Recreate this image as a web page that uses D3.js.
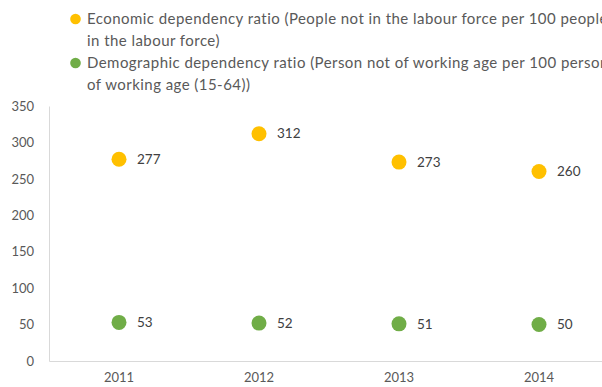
<!DOCTYPE html>
<html><head><meta charset="utf-8">
<script src="https://cdn.jsdelivr.net/npm/d3@7"></script>
<style>body{margin:0;background:#fff;overflow:hidden}svg{display:block}</style>
</head><body>
<script>
const years = ["2011", "2012", "2013", "2014"];
const economic = [277, 312, 273, 260];
const demographic = [53, 52, 51, 50];
const yTicks = [0, 50, 100, 150, 200, 250, 300, 350];
const legendLines = [
  ["Economic dependency ratio (People not in the labour force per 100 people", "in the labour force)"],
  ["Demographic dependency ratio (Person not of working age per 100 persons", "of working age (15-64))"]
];
const colors = ["#FFC000", "#70AD47"];

const W = 602, H = 387;
const font = "Lato, 'Open Sans', sans-serif";
const svg = d3.select("body").append("svg").attr("width", W).attr("height", H);

const x = d3.scaleBand().domain(years).range([49, 609]);
const y = d3.scaleLinear().domain([0, 350]).range([361, 106]);

// y axis
const ya = svg.append("g").attr("transform", "translate(49,0)")
  .call(d3.axisLeft(y).tickValues(yTicks).tickSize(0).tickPadding(15));
ya.select(".domain").attr("stroke", "#d9d9d9");
ya.selectAll("text").attr("fill", "#595959").style("font-family", font).style("font-size", "13px");

// x axis
const xa = svg.append("g").attr("transform", "translate(0,361)")
  .call(d3.axisBottom(x).tickSize(0).tickPadding(12));
xa.select(".domain").attr("stroke", "#d9d9d9");
xa.selectAll("text").attr("fill", "#595959").style("font-family", font).style("font-size", "13px");

const series = [economic, demographic];
series.forEach((vals, i) => {
  const g = svg.append("g");
  g.selectAll("circle").data(vals).join("circle")
    .attr("cx", (d, j) => x(years[j]) + x.bandwidth() / 2)
    .attr("cy", d => y(d))
    .attr("r", 7.5)
    .attr("fill", colors[i]);
  g.selectAll("text").data(vals).join("text")
    .attr("x", (d, j) => x(years[j]) + x.bandwidth() / 2 + 18)
    .attr("y", d => y(d))
    .attr("dy", "0.35em")
    .attr("fill", "#404040")
    .style("font-family", font).style("font-size", "13.5px")
    .text(d => d);
});

// legend
legendLines.forEach((lines, i) => {
  const top = 19 + i * 44;
  svg.append("circle").attr("cx", 75.5).attr("cy", top).attr("r", 5.3).attr("fill", colors[i]);
  lines.forEach((t, k) => {
    svg.append("text").attr("x", 87).attr("y", top + k * 22).attr("dy", "0.35em")
      .attr("fill", "#595959").style("font-family", font).style("font-size", "15px")
      .style("letter-spacing", "0.45px")
      .text(t);
  });
});
</script>
</body></html>
